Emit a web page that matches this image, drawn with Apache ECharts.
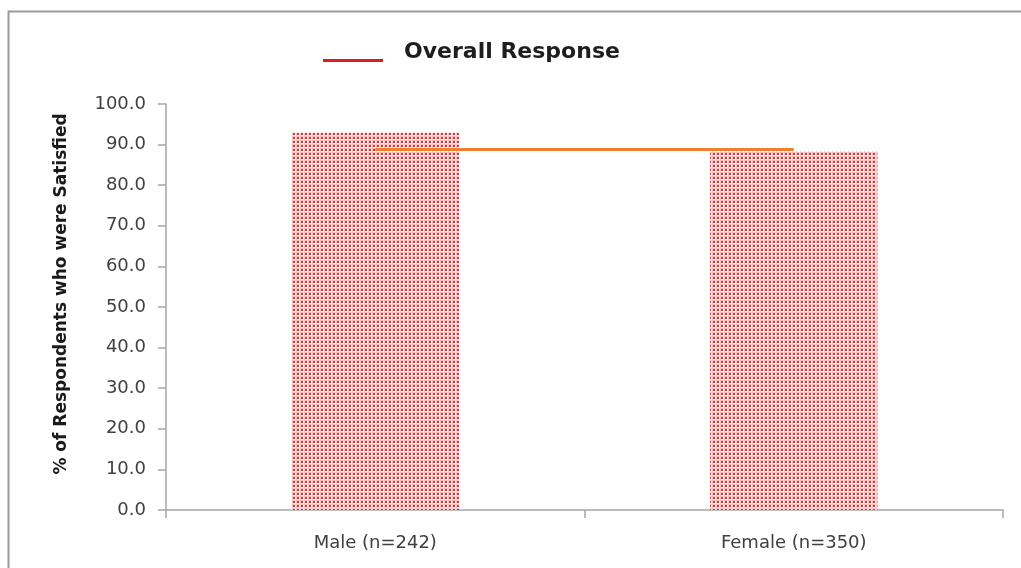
<!DOCTYPE html>
<html>
<head>
<meta charset="utf-8">
<script src="https://cdn.jsdelivr.net/npm/echarts@6/dist/echarts.min.js"></script>
<style>
  html, body { margin: 0; padding: 0; background: #ffffff; }
  #chart { width: 1021px; height: 568px; }
</style>
</head>
<body>
<div id="chart"></div>
<script>
// Satisfaction by gender, with the overall response level drawn across both groups
const categories = ['Male (n=242)', 'Female (n=350)'];
const satisfiedPct = [92.9, 88.4];
const overallPct = [88.8, 88.8];
const overallName = 'Overall Response';

// Dotted red fill used for the bars
function dotPattern() {
  const c = document.createElement('canvas');
  c.width = 4; c.height = 4;
  const g = c.getContext('2d');
  g.fillStyle = '#ffffff';
  g.fillRect(0, 0, 4, 4);
  g.fillStyle = '#f7c2c2';
  g.fillRect(0, 0, 4, 1);
  g.fillRect(0, 0, 1, 4);
  g.fillStyle = '#e02c2c';
  g.fillRect(1, 1, 2, 2);
  return c;
}

const font = 'DejaVu Sans';
const chart = echarts.init(document.getElementById('chart'), null, { renderer: 'canvas' });

chart.setOption({
  backgroundColor: '#ffffff',
  animation: false,
  graphic: [{
    type: 'rect',
    shape: { x: 8.5, y: 11.5, width: 1040, height: 600 },
    style: { fill: 'none', stroke: '#9a9a9a', lineWidth: 2 },
    silent: true,
    z: -1
  }],
  legend: {
    left: 318,
    top: 36,
    // short line sitting near the text baseline
    icon: 'path://M0,0 L0.01,0 L0,0.01 Z M0,17 L60,17 L60,20 L0,20 Z',
    itemWidth: 60,
    itemHeight: 20,
    data: [{ name: overallName, itemStyle: { color: '#d42020' } }],
    textStyle: {
      fontFamily: font,
      fontWeight: 'bold',
      fontSize: 22,
      color: '#1e1e1e',
      padding: [0, 0, 0, 16]
    }
  },
  grid: { left: 166, right: 18, top: 104, bottom: 58, containLabel: false },
  xAxis: {
    type: 'category',
    data: categories,
    boundaryGap: true,
    axisLine: { lineStyle: { color: '#a6a6a6', width: 1.5 } },
    axisTick: { show: true, length: 8, inside: false, lineStyle: { color: '#a6a6a6', width: 1.5 } },
    axisLabel: { fontFamily: font, fontSize: 18, color: '#404040', margin: 24 }
  },
  yAxis: {
    type: 'value',
    min: 0,
    max: 100,
    interval: 10,
    name: '% of Respondents who were Satisfied',
    nameLocation: 'middle',
    nameRotate: 90,
    nameGap: 96,
    nameTextStyle: {
      fontFamily: font, fontWeight: 'bold', fontSize: 17, color: '#1a1a1a',
      padding: [0, 0, 0, 26]
    },
    axisLine: { show: true, lineStyle: { color: '#a6a6a6', width: 1.5 } },
    axisTick: { show: true, length: 8, inside: false, lineStyle: { color: '#a6a6a6', width: 1.5 } },
    splitLine: { show: false },
    axisLabel: {
      fontFamily: font, fontSize: 18, color: '#404040', margin: 20,
      formatter: v => v.toFixed(1)
    }
  },
  series: [
    {
      name: 'Satisfied',
      type: 'bar',
      data: satisfiedPct,
      barWidth: '40%',
      itemStyle: { color: { image: dotPattern(), repeat: 'repeat' } }
    },
    {
      name: overallName,
      type: 'line',
      data: overallPct,
      symbol: 'none',
      lineStyle: { color: '#f08030', width: 3 },
      itemStyle: { color: '#f08030' },
      z: 3
    }
  ]
});
</script>
</body>
</html>
